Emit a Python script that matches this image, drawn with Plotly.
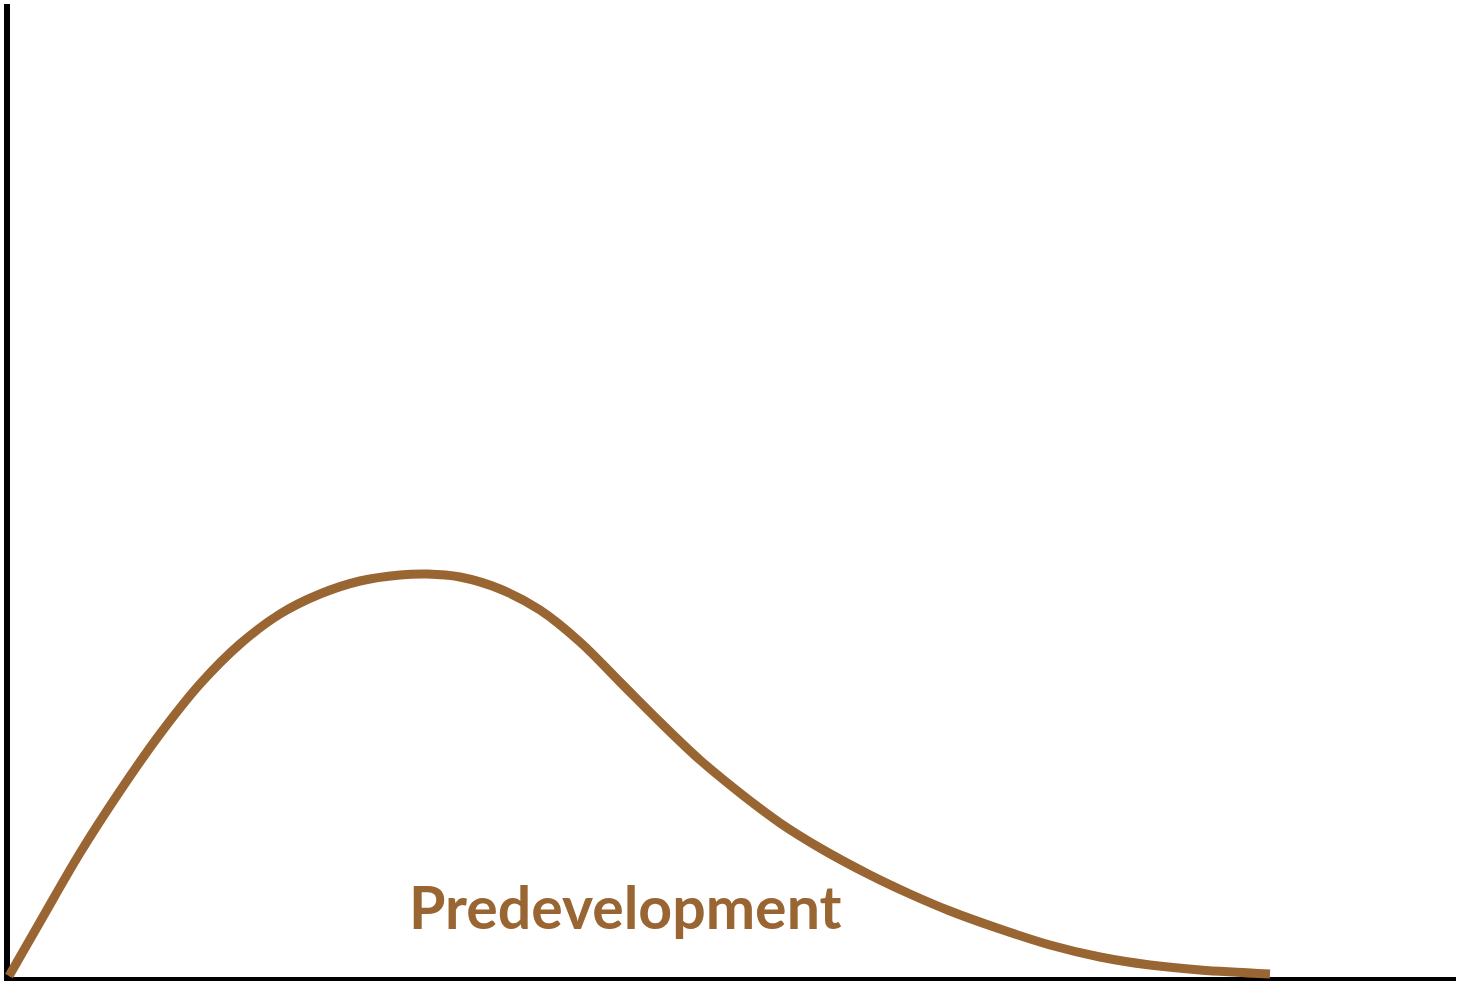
import plotly.graph_objects as go

# Hydrograph-like curve (time vs. flow)
time = [2, 33, 73, 113, 153, 193, 233, 273, 313, 353, 393, 420, 453, 493, 533,
        573, 613, 653, 693, 733, 773, 813, 863, 903, 943, 993, 1043, 1093, 1143,
        1193, 1263]
flow = [1, 55, 124, 186, 243, 293, 333, 363, 383, 396, 402, 403, 400, 388, 367,
        335, 295, 255, 217, 184, 154, 129, 102, 83, 66, 48, 32, 20, 12,
        7, 3]
label = "Predevelopment"
label_x = 617.5
label_y = 71

BROWN = "#996633"

fig = go.Figure()
fig.add_trace(go.Scatter(
    x=time, y=flow, mode="lines",
    line=dict(color=BROWN, width=9, shape="spline", smoothing=1.0),
    hoverinfo="skip", showlegend=False,
))

# axes drawn as lines
fig.add_shape(type="line", x0=0, x1=0, y0=-4, y1=973, xref="x", yref="y",
              line=dict(color="black", width=6), layer="below")
fig.add_shape(type="line", x0=-3, x1=1449, y0=-2, y1=-2, xref="x", yref="y",
              line=dict(color="black", width=4), layer="below")

fig.add_annotation(
    x=label_x, y=label_y, text=label, showarrow=False,
    xanchor="center", yanchor="middle",
    font=dict(family="Lato", size=59, color=BROWN, weight="bold"),
)

fig.update_layout(
    width=1458, height=981,
    margin=dict(l=0, r=0, t=0, b=0),
    paper_bgcolor="white", plot_bgcolor="white",
    xaxis=dict(range=[-7, 1451], visible=False, fixedrange=True),
    yaxis=dict(range=[-4, 977], visible=False, fixedrange=True),
)

fig.write_html("out.html", config={"displayModeBar": False},
               post_script="document.body.style.margin='0';")
